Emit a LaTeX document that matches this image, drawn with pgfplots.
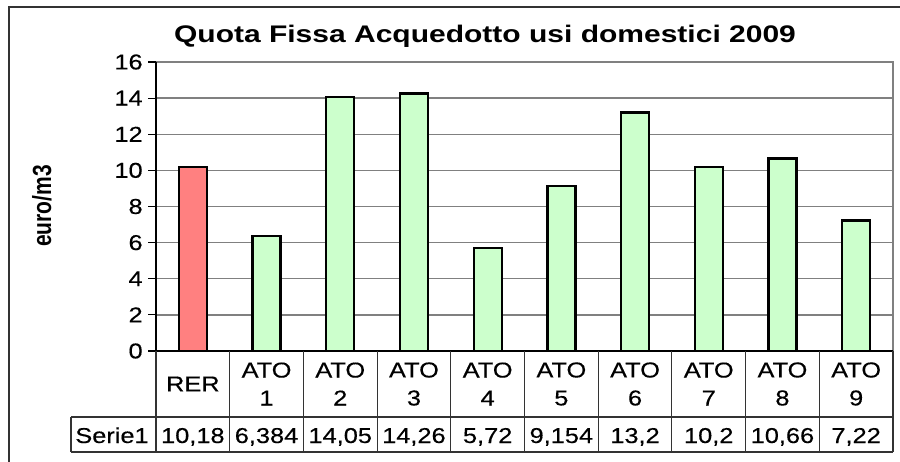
\documentclass[border=0pt]{standalone}
\usepackage{graphicx}
\usepackage{pgfplots}
\pgfplotsset{compat=1.18}
\usepackage{fontspec}
\setmainfont{Liberation Sans}
\newfontfamily\heavy{Liberation Sans}[FakeBold=0.35]
\definecolor{barred}{HTML}{FF8080}
\definecolor{bargreen}{HTML}{CCFFCC}
\definecolor{gridgray}{HTML}{808080}
\begin{document}
\begin{tikzpicture}[x=1pt,y=1pt]
\useasboundingbox (0,0) rectangle (900,461);
\draw[line width=1.6pt, black!80] (9,-20) -- (9,454) -- (920,454);
\node[font=\bfseries\fontsize{24}{28}\selectfont, xscale=1.25, anchor=base] at (485,418) {Quota Fissa Acquedotto usi domestici 2009};
\node[font=\bfseries\fontsize{21}{24}\selectfont, rotate=90] at (42,255) {\scalebox{1}[1.25]{euro/m3}};
\begin{axis}[
  at={(156pt,110pt)}, anchor=south west, scale only axis,
  width=737pt, height=289pt,
  xmin=-0.5, xmax=9.5, ymin=0, ymax=16,
  ytick={0,2,...,16}, xtick=\empty, ytick pos=left,
  ymajorgrids, grid style={gridgray, line width=1.4pt},
  axis line style={draw=none},
  tick align=outside, major tick length=8pt, tick style={black, line width=1.2pt},
  yticklabel style={font=\heavy\fontsize{21.5}{24}\selectfont, xscale=1.18, xshift=-1pt},
  /pgf/number format/assume math mode=true,
  ybar, bar width=28pt, bar shift=0pt,
  clip=false,
]
\addplot[fill=barred, draw=black, line width=2.3pt] coordinates {(0,10.18)};
\addplot[fill=bargreen, draw=black, line width=2.3pt] coordinates {
  (1,6.384) (2,14.05) (3,14.26) (4,5.72) (5,9.154)
  (6,13.2) (7,10.2) (8,10.66) (9,7.22)};
\draw[gridgray, line width=1.6pt] (rel axis cs:0,1) -- (rel axis cs:1,1) -- (rel axis cs:1,0);
\draw[black, line width=2pt] (rel axis cs:0,0) -- (rel axis cs:0,1);
\draw[black, line width=1.4pt] (rel axis cs:0,0) -- (rel axis cs:1,0);
\end{axis}
% data table
\draw[black!80, line width=1.1pt] (71,44) -- (893,44);
\draw[black!80, line width=1.1pt] (71,9) -- (893,9);
\draw[black!80, line width=1.1pt] (71,44) -- (71,9);
\foreach \i in {0,...,10} {
  \draw[black!80, line width=1.1pt] ({156+73.7*\i},110) -- ({156+73.7*\i},9);
}
\node[font=\heavy\fontsize{21.5}{24}\selectfont, xscale=1.18, anchor=base] at (112,18) {Serie1};
\foreach \i/\lab in {0/{RER},1/{ATO\\1},2/{ATO\\2},3/{ATO\\3},4/{ATO\\4},5/{ATO\\5},6/{ATO\\6},7/{ATO\\7},8/{ATO\\8},9/{ATO\\9}} {
  \node[font=\heavy\fontsize{21.5}{28}\selectfont, xscale=1.18, align=center, inner sep=0pt] at ({156+73.7*(\i+0.5)},77) {\lab};
}
\foreach \i/\val in {0/{10,18},1/{6,384},2/{14,05},3/{14,26},4/{5,72},5/{9,154},6/{13,2},7/{10,2},8/{10,66},9/{7,22}} {
  \node[font=\heavy\fontsize{21.5}{24}\selectfont, xscale=1.18, anchor=base] at ({156+73.7*(\i+0.5)},18) {\val};
}
\end{tikzpicture}
\end{document}
